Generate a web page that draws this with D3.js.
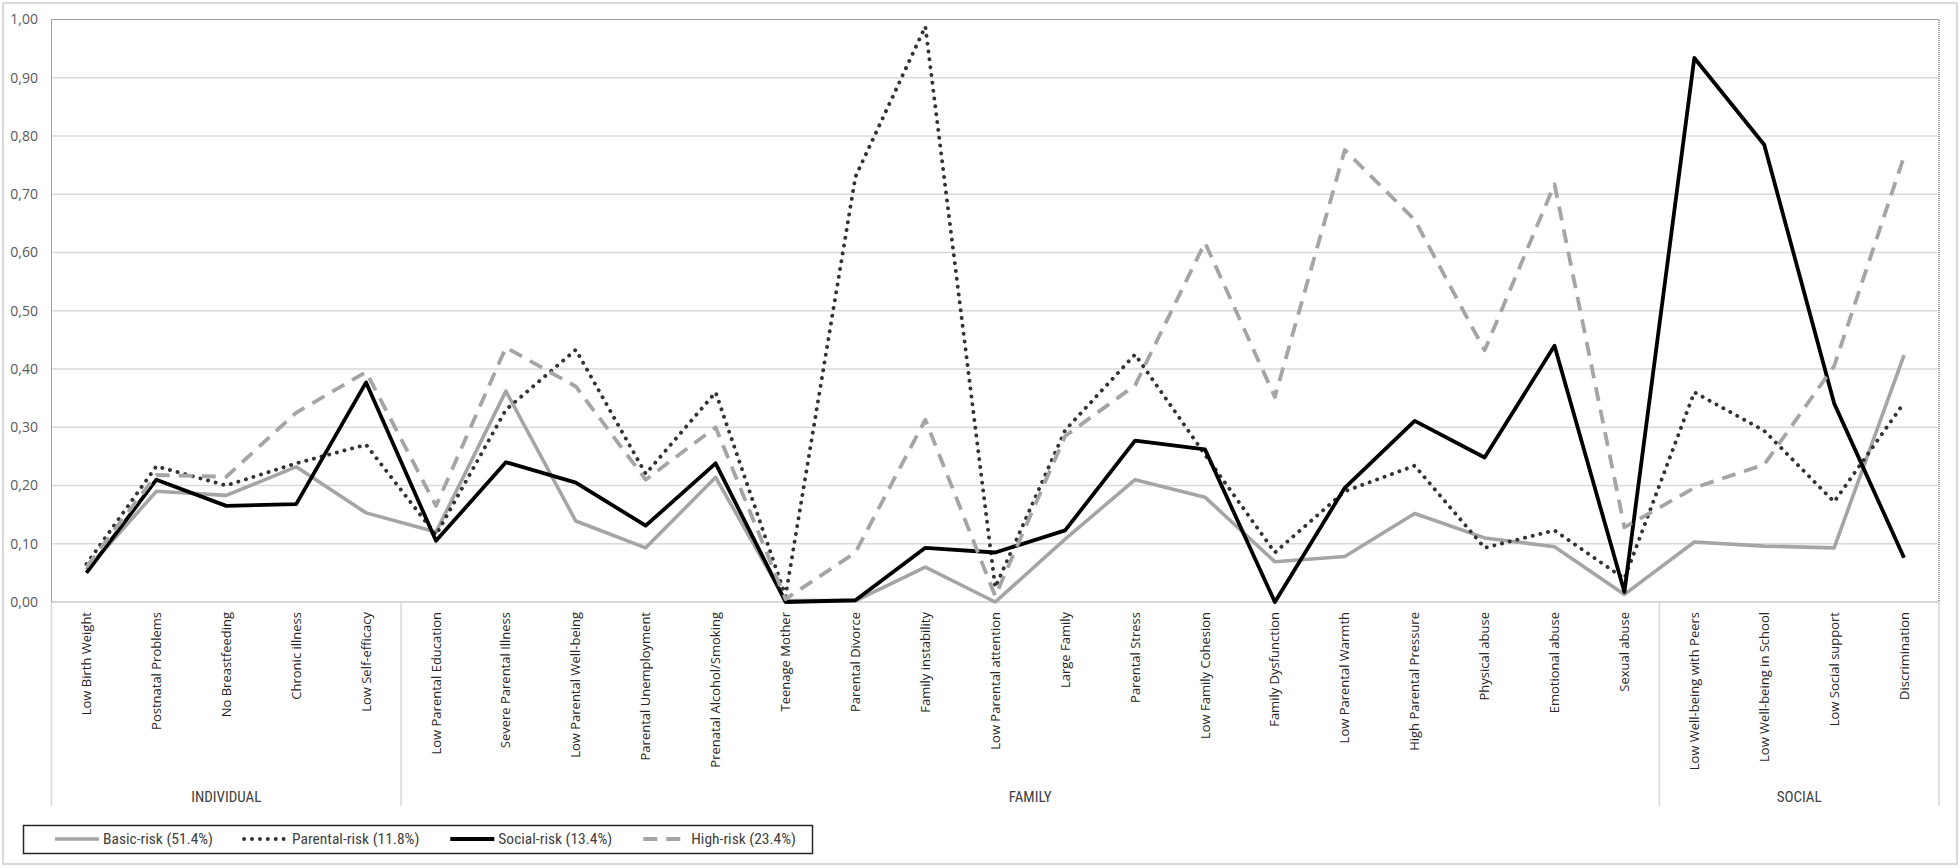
<!DOCTYPE html>
<html>
<head>
<meta charset="utf-8">
<script src="https://cdn.jsdelivr.net/npm/d3@7"></script>
<style>
  body { margin: 0; background: #fff; }
  text { font-family: "Open Sans", "DejaVu Sans", sans-serif; }
  .narrow { font-family: "Liberation Sans Narrow", "Roboto Condensed", "Roboto", sans-serif; font-stretch: condensed; }
</style>
</head>
<body>
<div id="chart"></div>
<script>
var categories = ["Low Birth Weight", "Postnatal Problems", "No Breastfeeding", "Chronic illness", "Low Self-efficacy",
  "Low Parental Education", "Severe Parental Illness", "Low Parental Well-being", "Parental Unemployment",
  "Prenatal Alcohol/Smoking", "Teenage Mother", "Parental Divorce", "Family instability", "Low Parental attention",
  "Large Family", "Parental Stress", "Low Family Cohesion", "Family Dysfunction", "Low Parental Warmth",
  "High Parental Pressure", "Physical abuse", "Emotional abuse", "Sexual abuse",
  "Low Well-being with Peers", "Low Well-being in School", "Low Social support", "Discrimination"];

var groupNames = ["INDIVIDUAL", "FAMILY", "SOCIAL"];
var groupSizes = [5, 18, 4];

var seriesNames = ["Basic-risk (51.4%)", "Parental-risk (11.8%)", "Social-risk (13.4%)", "High-risk (23.4%)"];

var basicRisk = [0.055, 0.19, 0.183, 0.232, 0.153, 0.12, 0.362, 0.139, 0.093, 0.214, 0.003, 0.002, 0.06, 0.0,
  0.108, 0.21, 0.18, 0.069, 0.078, 0.152, 0.11, 0.095, 0.013, 0.103, 0.096, 0.093, 0.424];
var parentalRisk = [0.065, 0.233, 0.20, 0.238, 0.27, 0.115, 0.33, 0.433, 0.22, 0.36, 0.01, 0.73, 0.988, 0.025,
  0.295, 0.425, 0.253, 0.085, 0.19, 0.234, 0.093, 0.123, 0.04, 0.36, 0.294, 0.172, 0.342];
var socialRisk = [0.05, 0.21, 0.165, 0.168, 0.377, 0.105, 0.24, 0.205, 0.131, 0.238, 0.0, 0.003, 0.093, 0.085,
  0.123, 0.277, 0.262, 0.0, 0.196, 0.311, 0.248, 0.44, 0.017, 0.934, 0.785, 0.341, 0.076];
var highRisk = [0.06, 0.218, 0.215, 0.325, 0.395, 0.165, 0.437, 0.37, 0.21, 0.30, 0.005, 0.085, 0.313, 0.01,
  0.285, 0.372, 0.617, 0.352, 0.776, 0.656, 0.432, 0.717, 0.128, 0.196, 0.236, 0.405, 0.765];

var yTicks = [0, 0.1, 0.2, 0.3, 0.4, 0.5, 0.6, 0.7, 0.8, 0.9, 1.0];

var width = 1960, height = 868;
var plot = {left: 51.5, right: 1939, top: 19.5, bottom: 602};

var styles = [
  {color: "#a5a5a5", width: 3.6, dash: null, cap: "butt"},
  {color: "#333333", width: 3.9, dash: "0.1 7.8", cap: "round"},
  {color: "#000000", width: 3.8, dash: null, cap: "butt"},
  {color: "#a5a5a5", width: 3.8, dash: "14 9", cap: "butt"}
];
var allSeries = [basicRisk, parentalRisk, socialRisk, highRisk];

var locale = d3.formatLocale({decimal: ",", thousands: ".", grouping: [3], currency: ["", "€"]});
var fmt = locale.format(".2f");

var svg = d3.select("#chart").append("svg")
  .attr("width", width)
  .attr("height", height);

// outer chart border
svg.append("rect")
  .attr("x", 3).attr("y", 3)
  .attr("width", width - 6).attr("height", height - 7)
  .attr("fill", "#fff")
  .attr("stroke", "#d9d9d9")
  .attr("stroke-width", 2);

var x = d3.scaleBand()
  .domain(categories)
  .range([plot.left, plot.right])
  .padding(0);

var y = d3.scaleLinear()
  .domain([0, 1])
  .range([plot.bottom, plot.top]);

var cx = function(c) { return x(c) + x.bandwidth() / 2; };

// plot area dotted border
svg.append("rect")
  .attr("x", plot.left).attr("y", plot.top)
  .attr("width", plot.right - plot.left)
  .attr("height", plot.bottom - plot.top)
  .attr("fill", "none")
  .attr("stroke", "#404040")
  .attr("stroke-width", 1)
  .attr("stroke-dasharray", "1 1");

// gridlines
svg.append("g")
  .selectAll("line")
  .data(yTicks)
  .enter()
  .append("line")
  .attr("x1", plot.left + 1)
  .attr("x2", plot.right - 1)
  .attr("y1", d => y(d))
  .attr("y2", d => y(d))
  .attr("stroke", "#d9d9d9")
  .attr("stroke-width", d => d === 1 ? 0 : 1.6);

// y labels
svg.append("g")
  .selectAll("text")
  .data(yTicks)
  .enter()
  .append("text")
  .attr("x", 38)
  .attr("y", d => y(d))
  .attr("dy", "0.35em")
  .attr("text-anchor", "end")
  .attr("font-size", 14)
  .attr("fill", "#595959")
  .text(d => fmt(d));

// group separators and labels
var bounds = [0];
groupSizes.forEach(function(s, i) { bounds.push(bounds[i] + s); });
var sepX = bounds.map(function(b) {
  return b < categories.length ? x(categories[b]) : plot.right;
});

svg.append("g")
  .selectAll("line")
  .data(sepX)
  .enter()
  .append("line")
  .attr("x1", d => d).attr("x2", d => d)
  .attr("y1", plot.bottom)
  .attr("y2", 806)
  .attr("stroke", "#d9d9d9")
  .attr("stroke-width", 1.6);

svg.append("g")
  .selectAll("text")
  .data(groupNames)
  .enter()
  .append("text")
  .attr("class", "narrow")
  .attr("x", (d, i) => (sepX[i] + sepX[i + 1]) / 2)
  .attr("y", 797)
  .attr("dy", "0.35em")
  .attr("text-anchor", "middle")
  .attr("font-size", 15)
  .attr("fill", "#404040")
  .text(d => d);

// category labels
svg.append("g")
  .selectAll("text")
  .data(categories)
  .enter()
  .append("text")
  .attr("transform", d => "translate(" + cx(d) + "," + (plot.bottom + 10) + ") rotate(-90)")
  .attr("dy", "0.35em")
  .attr("text-anchor", "end")
  .attr("font-size", 13)
  .attr("fill", "#262626")
  .text(d => d);

// x axis line
svg.append("line")
  .attr("x1", plot.left).attr("x2", plot.right)
  .attr("y1", plot.bottom).attr("y2", plot.bottom)
  .attr("stroke", "#d9d9d9")
  .attr("stroke-width", 1.6);

// series lines
var line = d3.line()
  .x((d, i) => cx(categories[i]))
  .y(d => y(d));

svg.append("g")
  .selectAll("path")
  .data(allSeries)
  .enter()
  .append("path")
  .attr("d", d => line(d))
  .attr("fill", "none")
  .attr("stroke", (d, i) => styles[i].color)
  .attr("stroke-width", (d, i) => styles[i].width)
  .attr("stroke-dasharray", (d, i) => styles[i].dash)
  .attr("stroke-linecap", (d, i) => styles[i].cap)
  .attr("stroke-linejoin", "round");

// legend
var legend = svg.append("g");
legend.append("rect")
  .attr("x", 23.5).attr("y", 825.5)
  .attr("width", 789).attr("height", 28)
  .attr("fill", "#fff")
  .attr("stroke", "#262626")
  .attr("stroke-width", 1.5);

var lx = 55, ly = 839;
seriesNames.forEach(function(name, i) {
  var st = styles[i];
  legend.append("line")
    .attr("x1", lx).attr("x2", lx + 44)
    .attr("y1", ly).attr("y2", ly)
    .attr("stroke", st.color)
    .attr("stroke-width", st.width)
    .attr("stroke-dasharray", st.dash)
    .attr("stroke-linecap", st.cap);
  var t = legend.append("text")
    .attr("class", "narrow")
    .attr("x", lx + 48)
    .attr("y", ly)
    .attr("dy", "0.35em")
    .attr("font-size", 15.5)
    .attr("fill", "#404040")
    .text(name);
  lx = lx + 48 + t.node().getComputedTextLength() + 31;
});
</script>
</body>
</html>
